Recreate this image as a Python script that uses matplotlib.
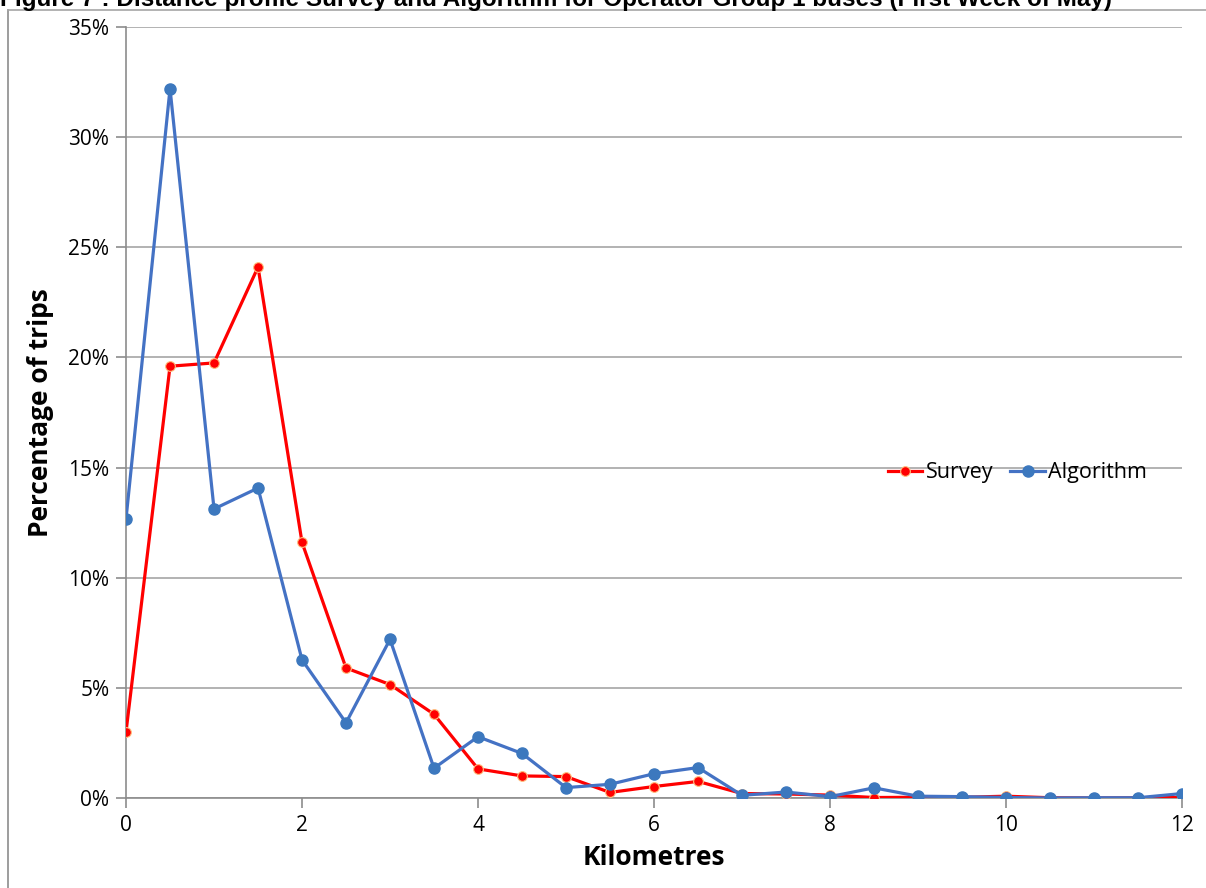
import matplotlib
matplotlib.use('Agg')
import matplotlib.pyplot as plt
from matplotlib.lines import Line2D
from matplotlib.ticker import FuncFormatter, MultipleLocator

TITLE = 'Figure 7 : Distance profile Survey and Algorithm for Operator Group 1 buses (First Week of May)'

km = [0, 0.5, 1, 1.5, 2, 2.5, 3, 3.5, 4, 4.5, 5, 5.5, 6, 6.5,
      7, 7.5, 8, 8.5, 9, 9.5, 10, 10.5, 11, 11.5, 12]

survey = [3.0, 19.6, 19.75, 24.1, 11.6, 5.9, 5.15, 3.8, 1.32, 1.0, 0.97, 0.25, 0.52, 0.75,
          0.2, 0.18, 0.13, 0.02, 0.03, 0.03, 0.08, 0.01, 0.0, 0.01, 0.02]

algorithm = [12.67, 32.2, 13.12, 14.07, 6.27, 3.41, 7.2, 1.35, 2.78, 2.02, 0.47, 0.62, 1.1, 1.38,
             0.12, 0.27, 0.06, 0.46, 0.08, 0.06, 0.02, 0.0, 0.01, 0.01, 0.2]

plt.rcParams['font.family'] = ['Open Sans', 'DejaVu Sans']

fig = plt.figure(figsize=(12.06, 8.88), dpi=100)
ax = fig.add_axes([0.1045, 0.1014, 0.8756, 0.8682])

ax.plot(km, survey, color='#FF0000', lw=2.3, marker='o', ms=7,
        mfc='#FF0000', mec='#FFC080', mew=0.8, label='Survey', zorder=3)
ax.plot(km, algorithm, color='#4472C4', lw=2.3, marker='o', ms=8,
        mfc='#3C78BE', mec='#3C78BE', label='Algorithm', zorder=4)

ax.set_xlim(0, 12)
ax.set_ylim(0, 35)
ax.xaxis.set_major_locator(MultipleLocator(2))
ax.yaxis.set_major_locator(MultipleLocator(5))
ax.yaxis.set_major_formatter(FuncFormatter(lambda v, p: '%d%%' % round(v)))
ax.grid(axis='y', color='#A6A6A6', lw=1.2)
ax.set_axisbelow(True)

for s in ['top', 'right']:
    ax.spines[s].set_visible(False)
for s in ['left', 'bottom']:
    ax.spines[s].set_color('#8C8C8C')
    ax.spines[s].set_linewidth(1.2)
ax.tick_params(axis='both', colors='#8C8C8C', length=7, width=1.2, labelsize=15,
               labelcolor='black')
ax.tick_params(axis='x', pad=5)
ax.tick_params(axis='y', pad=5)

ax.set_xlabel('Kilometres', fontsize=19, fontweight='bold', labelpad=6)
ax.set_ylabel('Percentage of trips', fontsize=19, fontweight='bold', labelpad=10)

ax.legend(loc='center left', bbox_to_anchor=(0.7215, 0.422), frameon=False, ncol=2,
          fontsize=15.5, handlelength=1.6, handletextpad=0.15, columnspacing=0.8,
          borderaxespad=0, borderpad=0)

# frame of the embedded chart
fig.add_artist(Line2D([8 / 1206, 8 / 1206], [0, 1 - 10 / 888], color='#8C8C8C', lw=1.2,
                      transform=fig.transFigure))
fig.add_artist(Line2D([8 / 1206, 1], [1 - 10 / 888, 1 - 10 / 888], color='#A6A6A6', lw=1.2,
                      transform=fig.transFigure))

# caption of the page, cut off at the very top as in the source
fig.text(0.0, 1 - 6 / 888, TITLE, fontsize=17.5, fontweight='bold',
         family=['Liberation Sans', 'DejaVu Sans'], ha='left', va='baseline')

fig.savefig('out.png', dpi=100)
